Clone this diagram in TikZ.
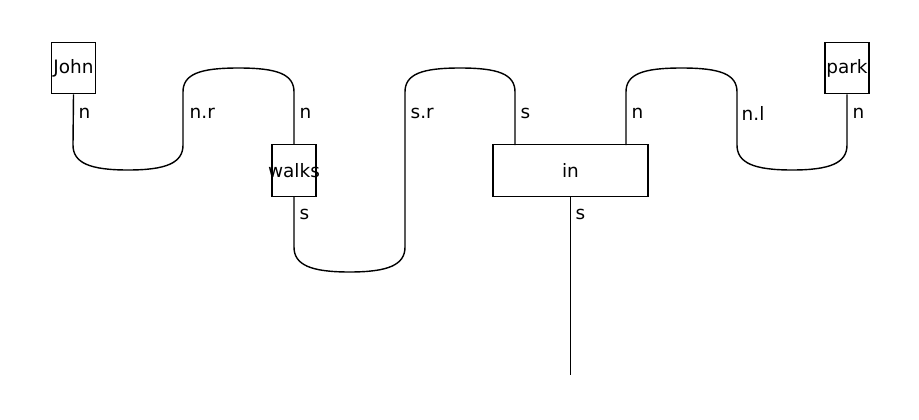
\documentclass[tikz,border=0pt]{standalone}
\usepackage{fontspec}
\setmainfont{DejaVu Sans}

\begin{document}
\begin{tikzpicture}[
    x=0.02cm, y=-0.02cm, line width=0.8pt,
    wbox/.style={draw, inner sep=0pt, minimum width=0.88cm, minimum height=1.03cm, font=\fontsize{10.5}{12}\selectfont},
    wlabel/.style={anchor=west, inner sep=0pt, font=\fontsize{10.5}{12}\selectfont}
]
\useasboundingbox (0,0) rectangle (919,419);

\node[wbox] (john) at (73.5,68) {\makebox[0pt]{John}};
\node[wbox] (walks) at (294,170.5) {\makebox[0pt]{walks}};
\node[wbox, minimum width=3.1cm] (in) at (570.5,170.5) {in};
\node[wbox] (park) at (847,68) {\makebox[0pt]{park}};
\coordinate (in-s) at (515,145);
\coordinate (in-n) at (626,145);
\coordinate (out) at (570.5,375);

% wires
\draw (john.south) -- (73,145) .. controls (73,163) and (90,170) .. (128,170)
    .. controls (166,170) and (183,163) .. (183,145) -- (183,92)
    .. controls (183,74) and (200,68) .. (238.5,68)
    .. controls (277,68) and (294,74) .. (294,92) -- (walks.north);
\draw (walks.south) -- (294,247) .. controls (294,265) and (311,272) .. (349.5,272)
    .. controls (388,272) and (405,265) .. (405,247) -- (405,92)
    .. controls (405,74) and (422,68) .. (460,68)
    .. controls (498,68) and (515,74) .. (515,92) -- (in-s);
\draw (in-n) -- (626,92) .. controls (626,74) and (643,68) .. (681.5,68)
    .. controls (720,68) and (737,74) .. (737,92) -- (737,145)
    .. controls (737,163) and (754,170) .. (792,170)
    .. controls (830,170) and (847,163) .. (847,145) -- (park.south);
\draw (in.south) -- (out);

% types
\node[wlabel] (l1) at (78,113) {n};
\node[wlabel] (l2) at (189,113) {n.r};
\node[wlabel] (l3) at (299,113) {n};
\node[wlabel] (l4) at (299,214) {s};
\node[wlabel] (l5) at (410,113) {s.r};
\node[wlabel] (l6) at (520,113) {s};
\node[wlabel] (l7) at (575,214) {s};
\node[wlabel] (l8) at (631,113) {n};
\node[wlabel] (l9) at (741,113) {n.l};
\node[wlabel] (l10) at (852,113) {n};
\end{tikzpicture}
\end{document}
